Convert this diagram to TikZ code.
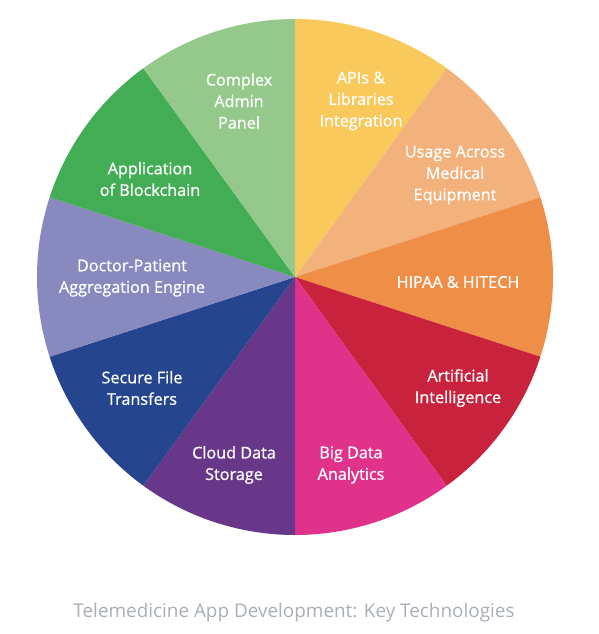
\documentclass[tikz,border=0pt]{standalone}
\usepackage{fontspec}
\setmainfont{Open Sans}
\newfontfamily\slicefont[FakeBold=0.9]{Open Sans}
\usepackage{xcolor}
\usepackage{tikz}
\usetikzlibrary{calc,positioning}

\definecolor{apiyellow}{HTML}{F9C95C}
\definecolor{usageorange}{HTML}{F3B17B}
\definecolor{hipaaorange}{HTML}{EF8E46}
\definecolor{aired}{HTML}{C9223D}
\definecolor{bigpink}{HTML}{E0328B}
\definecolor{cloudpurple}{HTML}{69378A}
\definecolor{securenavy}{HTML}{25468F}
\definecolor{doctorlav}{HTML}{8789BF}
\definecolor{chaingreen}{HTML}{43AD56}
\definecolor{adminmint}{HTML}{94C98B}
\definecolor{captiongray}{HTML}{A9AEB8}

\begin{document}
\begin{tikzpicture}[x=1pt, y=1pt, lbl/.style={text=white, align=center, font=\slicefont\fontsize{16.2}{21.5}\selectfont},
  captiontext/.style={text=captiongray, font=\fontsize{18.9}{22}\selectfont}]
  \useasboundingbox (0,0) rectangle (598,-634);
  \coordinate (ctr) at (295,-277);
  \foreach \a/\col in {90/apiyellow, 54/usageorange, 18/hipaaorange, -18/aired, -54/bigpink,
    -90/cloudpurple, -126/securenavy, -162/doctorlav, -198/chaingreen, -234/adminmint}
    \fill[\col] (ctr) -- ++(\a:258) arc[start angle=\a, end angle=\a-36, radius=258] -- cycle;
  \node[lbl] (api) at (361,-101) {APIs \&\\Libraries\\Integration};
  \node[lbl] (usage) at (455,-175) {Usage Across\\Medical\\Equipment};
  \node[lbl] (hipaa) at (458,-282) {HIPAA \& HITECH};
  \node[lbl] (ai) at (458,-388) {Artificial\\Intelligence};
  \node[lbl] (bigdata) at (351,-465) {Big Data\\Analytics};
  \node[lbl] (cloud) at (234,-465) {Cloud Data\\Storage};
  \node[lbl] (secure) at (142,-388) {Secure File\\Transfers};
  \node[lbl] (doctor) at (132,-278) {Doctor-Patient\\Aggregation Engine};
  \node[lbl] (chain) at (150,-179) {Application\\of Blockchain};
  \node[lbl] (admin) at (239,-101) {Complex\\Admin\\Panel};
  \node[captiontext] (caption) at (294,-613) {Telemedicine App Development: Key Technologies};
\end{tikzpicture}
\end{document}
